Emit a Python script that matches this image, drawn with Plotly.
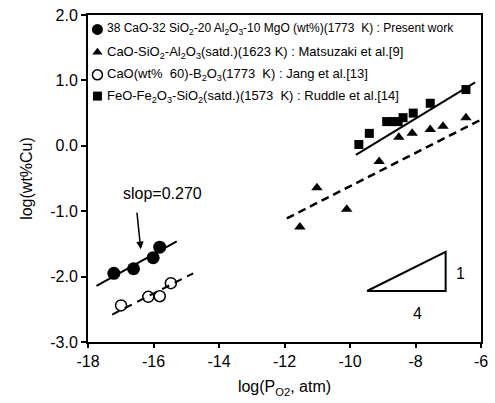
import plotly.graph_objects as go

# ---- data ----
present_x = [-17.21, -16.61, -16.01, -15.81]
present_y = [-1.95, -1.88, -1.71, -1.55]
present_fit_x = [-17.74, -15.29]
present_fit_y = [-2.14, -1.46]

matsu_x = [-11.53, -11.01, -10.10, -9.11, -8.51, -8.10, -7.55, -7.16, -6.46]
matsu_y = [-1.24, -0.64, -0.97, -0.24, 0.13, 0.19, 0.25, 0.30, 0.43]
matsu_fit_x = [-11.93, -6.0]
matsu_fit_y = [-1.11, 0.40]

jang_x = [-16.99, -16.16, -15.81, -15.47]
jang_y = [-2.44, -2.31, -2.30, -2.10]
jang_fit_x = [-17.26, -14.79]
jang_fit_y = [-2.58, -1.95]

ruddle_x = [-9.73, -9.41, -8.88, -8.71, -8.53, -8.38, -8.07, -7.55, -6.46]
ruddle_y = [0.02, 0.19, 0.37, 0.37, 0.37, 0.43, 0.50, 0.65, 0.86]
ruddle_fit_x = [-9.82, -6.18]
ruddle_fit_y = [-0.14, 0.97]

slope_tri_x = [-9.48, -7.08, -7.08, -9.48]
slope_tri_y = [-2.22, -2.22, -1.62, -2.22]

x_ticks = [-18, -16, -14, -12, -10, -8, -6]
x_ticktext = ["-18", "-16", "-14", "-12", "-10", "-8", "-6"]
y_ticks = [-3, -2, -1, 0, 1, 2]
y_ticktext = ["-3.0", "-2.0", "-1.0", "0.0", "1.0", "2.0"]

names = [
    "38 CaO-32 SiO<sub>2</sub>-20 Al<sub>2</sub>O<sub>3</sub>-10 MgO (wt%)(1773  K) : Present work",
    "CaO-SiO<sub>2</sub>-Al<sub>2</sub>O<sub>3</sub>(satd.)(1623 K) : Matsuzaki et al.[9]",
    "CaO(wt%  60)-B<sub>2</sub>O<sub>3</sub>(1773  K) : Jang et al.[13]",
    "FeO-Fe<sub>2</sub>O<sub>3</sub>-SiO<sub>2</sub>(satd.)(1573  K) : Ruddle et al.[14]",
]
# legend rows (fraction of plot area, overlay axes 0..1)
legend_mx = [0.024, 0.024, 0.024, 0.024]
legend_my = [0.956, 0.886, 0.817, 0.752]
legend_tx = 0.043
legend_fs = [12, 13, 13, 13]

FONT = "Liberation Sans, Arial, sans-serif"
fig = go.Figure()

# fit lines
fig.add_trace(go.Scatter(x=present_fit_x, y=present_fit_y, mode="lines",
                         line=dict(color="black", width=2)))
fig.add_trace(go.Scatter(x=matsu_fit_x, y=matsu_fit_y, mode="lines",
                         line=dict(color="black", width=2.5, dash="8px,5px")))
fig.add_trace(go.Scatter(x=jang_fit_x, y=jang_fit_y, mode="lines",
                         line=dict(color="black", width=2, dash="8px,6px")))
fig.add_trace(go.Scatter(x=ruddle_fit_x, y=ruddle_fit_y, mode="lines",
                         line=dict(color="black", width=2)))
fig.add_trace(go.Scatter(x=slope_tri_x, y=slope_tri_y, mode="lines",
                         line=dict(color="black", width=2)))

m_present = dict(symbol="circle", size=13, color="black")
m_matsu = dict(symbol="triangle-up", size=10, color="black")
m_jang = dict(symbol="circle-open", size=11, color="black", line=dict(width=1.5, color="black"))
m_ruddle = dict(symbol="square", size=9, color="black")
markers = [m_present, m_matsu, m_jang, m_ruddle]
legend_sizes = [11, 9, 10, 9]

# data markers
fig.add_trace(go.Scatter(x=present_x, y=present_y, mode="markers", name=names[0], marker=m_present))
fig.add_trace(go.Scatter(x=matsu_x, y=matsu_y, mode="markers", name=names[1], marker=m_matsu))
fig.add_trace(go.Scatter(x=jang_x, y=jang_y, mode="markers", name=names[2], marker=m_jang))
fig.add_trace(go.Scatter(x=ruddle_x, y=ruddle_y, mode="markers", name=names[3], marker=m_ruddle))

# legend (manual)
for i in range(4):
    mk = dict(markers[i])
    mk["size"] = legend_sizes[i]
    fig.add_trace(go.Scatter(x=[legend_mx[i]], y=[legend_my[i]], mode="markers",
                             marker=mk, xaxis="x2", yaxis="y2", hoverinfo="skip"))
    fig.add_annotation(x=legend_tx, y=legend_my[i], xref="paper", yref="paper",
                       xanchor="left", yanchor="middle", text=names[i], showarrow=False,
                       font=dict(family=FONT, size=legend_fs[i], color="black"))

fig.add_annotation(x=-15.74, y=-0.73, text="slop=0.270", showarrow=False,
                   font=dict(family=FONT, size=16, color="black"))
fig.add_annotation(x=-16.39, y=-1.58, ax=-16.51, ay=-1.0, axref="x", ayref="y",
                   text="", showarrow=True, arrowhead=2, arrowsize=1, arrowwidth=1.5,
                   arrowcolor="black")
fig.add_annotation(x=-6.63, y=-1.96, text="1", showarrow=False,
                   font=dict(family=FONT, size=16, color="black"))
fig.add_annotation(x=-7.95, y=-2.56, text="4", showarrow=False,
                   font=dict(family=FONT, size=16, color="black"))

fig.update_layout(
    width=495, height=403,
    margin=dict(l=88, r=7, t=11, b=61),
    paper_bgcolor="white", plot_bgcolor="white",
    font=dict(family=FONT, size=16, color="black"),
    showlegend=False,
    xaxis=dict(range=[-18, -6], tickvals=x_ticks, ticktext=x_ticktext,
               showgrid=False, zeroline=False,
               showline=True, linecolor="black", linewidth=2, mirror=True,
               ticks="outside", ticklen=4, tickwidth=1.5, tickcolor="black",
               tickfont=dict(size=16),
               title=dict(text="log(P<sub>O2</sub>, atm)", font=dict(size=16), standoff=12)),
    yaxis=dict(range=[-3, 2], tickvals=y_ticks, ticktext=y_ticktext,
               showgrid=False, zeroline=False,
               showline=True, linecolor="black", linewidth=2, mirror=True,
               ticks="outside", ticklen=5, tickwidth=1.5, tickcolor="black",
               tickfont=dict(size=16),
               title=dict(text="log(wt%Cu)", font=dict(size=16), standoff=14)),
    xaxis2=dict(range=[0, 1], overlaying="x", visible=False, fixedrange=True),
    yaxis2=dict(range=[0, 1], overlaying="y", visible=False, fixedrange=True),
)

fig.write_html("out.html")
